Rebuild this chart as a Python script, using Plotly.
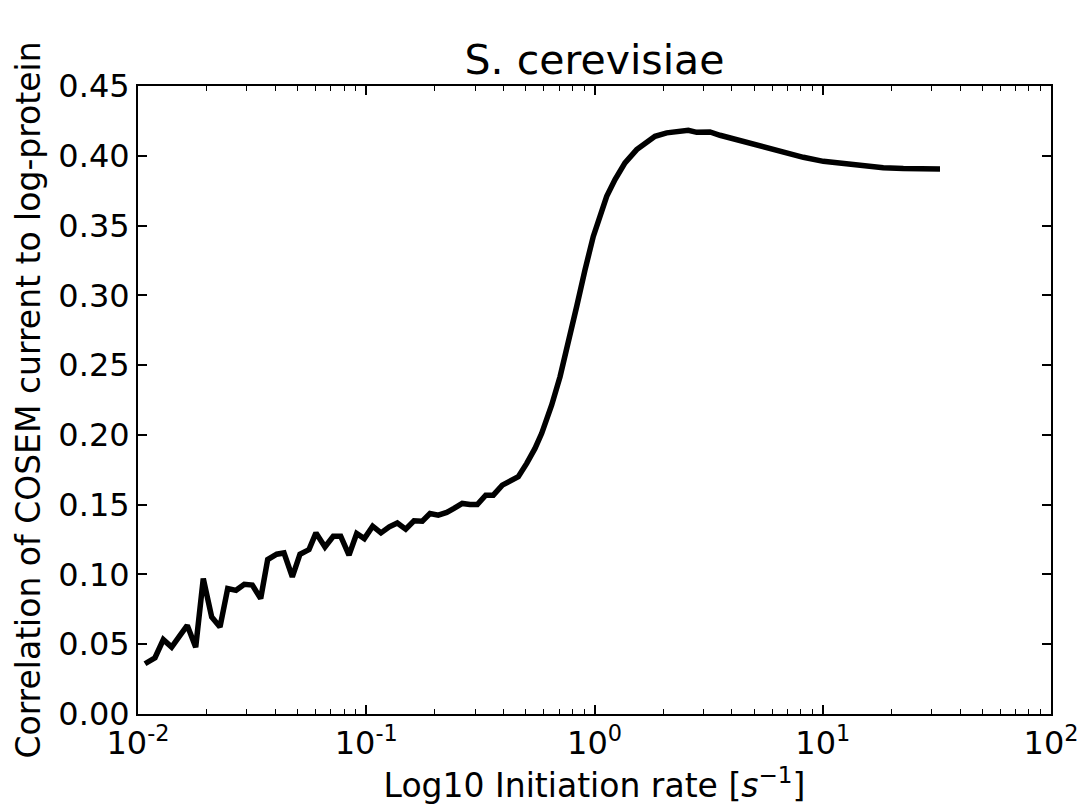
import plotly.graph_objects as go

# Initiation rate [1/s] and correlation of COSEM current to log-protein
rate = [0.01073, 0.01187, 0.01291, 0.01404, 0.01528, 0.01644, 0.01790, 0.01932, 0.02103, 0.02287,
        0.02472, 0.02688, 0.02922, 0.03168, 0.03448, 0.03700, 0.04053, 0.04361, 0.04743, 0.05125,
        0.05612, 0.06021, 0.06594, 0.07169, 0.07728, 0.08403, 0.09082, 0.09806, 0.1067, 0.1160,
        0.1262, 0.1368, 0.1489, 0.1619, 0.1760, 0.1902, 0.2068, 0.2252, 0.2423, 0.2634,
        0.2847, 0.3066, 0.3337, 0.3602, 0.3945, 0.4264, 0.4636, 0.5047, 0.5486, 0.5871,
        0.6494, 0.7063, 0.7680, 0.8355, 0.9087, 0.9879, 1.057, 1.131, 1.230, 1.360,
        1.531, 1.841, 2.072, 2.410, 2.576, 2.804, 3.206, 3.546, 3.924, 4.486,
        4.963, 5.681, 6.717, 8.223, 10.06, 12.30, 15.06, 18.42, 22.54, 26.68, 32.64]
corr = [0.0360, 0.0403, 0.0533, 0.0479, 0.0563, 0.0635, 0.0479, 0.0970, 0.0695, 0.0623,
        0.0899, 0.0886, 0.0929, 0.0924, 0.0827, 0.1107, 0.1145, 0.1154, 0.0982, 0.1145,
        0.1178, 0.1298, 0.1197, 0.1274, 0.1274, 0.1138, 0.1293, 0.1257, 0.1346, 0.1298,
        0.1341, 0.1369, 0.1324, 0.1384, 0.1382, 0.1437, 0.1425, 0.1444, 0.1473, 0.1509,
        0.1501, 0.1501, 0.1568, 0.1568, 0.1640, 0.1671, 0.1700, 0.1796, 0.1903, 0.2011,
        0.2214, 0.2417, 0.2657, 0.2920, 0.3183, 0.3422, 0.3566, 0.3709, 0.3829, 0.3949,
        0.4044, 0.4140, 0.4164, 0.4183, 0.4183, 0.4168, 0.4171, 0.4147, 0.4128, 0.4100,
        0.4087, 0.4056, 0.4021, 0.3989, 0.3960, 0.3942, 0.3924, 0.3915, 0.3908, 0.3906, 0.3906]

x_tickvals = [0.01, 0.1, 1, 10, 100]
x_ticktext = ["10<sup>-2</sup>", "10<sup>-1</sup>", "10<sup>0</sup>", "10<sup>1</sup>", "10<sup>2</sup>"]
x_minor_vals = [m * d for d in [0.01, 0.1, 1, 10] for m in range(2, 10)]
y_tickvals = [0.00, 0.05, 0.10, 0.15, 0.20, 0.25, 0.30, 0.35, 0.40, 0.45]

FONT = "DejaVu Sans"

fig = go.Figure()
# invisible copy on an overlaid axis that only carries the minor ticks
fig.add_trace(go.Scatter(x=rate, y=corr, mode="lines", xaxis="x2", yaxis="y",
                         line=dict(color="rgba(0,0,0,0)", width=0), hoverinfo="skip",
                         showlegend=False))
fig.add_trace(go.Scatter(x=rate, y=corr, mode="lines",
                         line=dict(color="black", width=5.5), showlegend=False))

fig.update_layout(
    width=1081, height=810,
    margin=dict(l=138, r=30, t=86, b=96),
    paper_bgcolor="white", plot_bgcolor="white",
    font=dict(family=FONT, color="black", size=32),
    title=dict(text="S. cerevisiae", x=0.5, xref="paper", xanchor="center",
               y=1, yref="paper", yanchor="bottom", pad=dict(b=12),
               font=dict(family=FONT, size=41, color="black")),
    xaxis=dict(
        type="log", range=[-2, 2], automargin=False,
        tickvals=x_tickvals, ticktext=x_ticktext,
        ticks="inside", ticklen=9, tickwidth=1.5, tickcolor="black",
        showline=True, linecolor="black", linewidth=2, mirror="ticks",
        showgrid=False, zeroline=False,
        tickfont=dict(family=FONT, size=32, color="black"),
        title=dict(text="Log10 Initiation rate [<i>s</i><sup>−1</sup>]",
                   font=dict(family=FONT, size=33, color="black"), standoff=6),
    ),
    xaxis2=dict(type="log", range=[-2, 2], overlaying="x", side="bottom",
                tickvals=x_minor_vals, showticklabels=False,
                ticks="inside", ticklen=5, tickwidth=1.2, tickcolor="black",
                showline=False, mirror="ticks", showgrid=False, zeroline=False,
                automargin=False),
    yaxis=dict(
        range=[0, 0.45], tickvals=y_tickvals, tickformat=".2f", automargin=False,
        ticks="inside", ticklen=9, tickwidth=1.5, tickcolor="black",
        showline=True, linecolor="black", linewidth=2, mirror="ticks",
        showgrid=False, zeroline=False,
        tickfont=dict(family=FONT, size=32, color="black"),
        title=dict(text="Correlation of COSEM current to log-protein",
                   font=dict(family=FONT, size=33, color="black"), standoff=8),
    ),
)

fig.write_html("out.html")
